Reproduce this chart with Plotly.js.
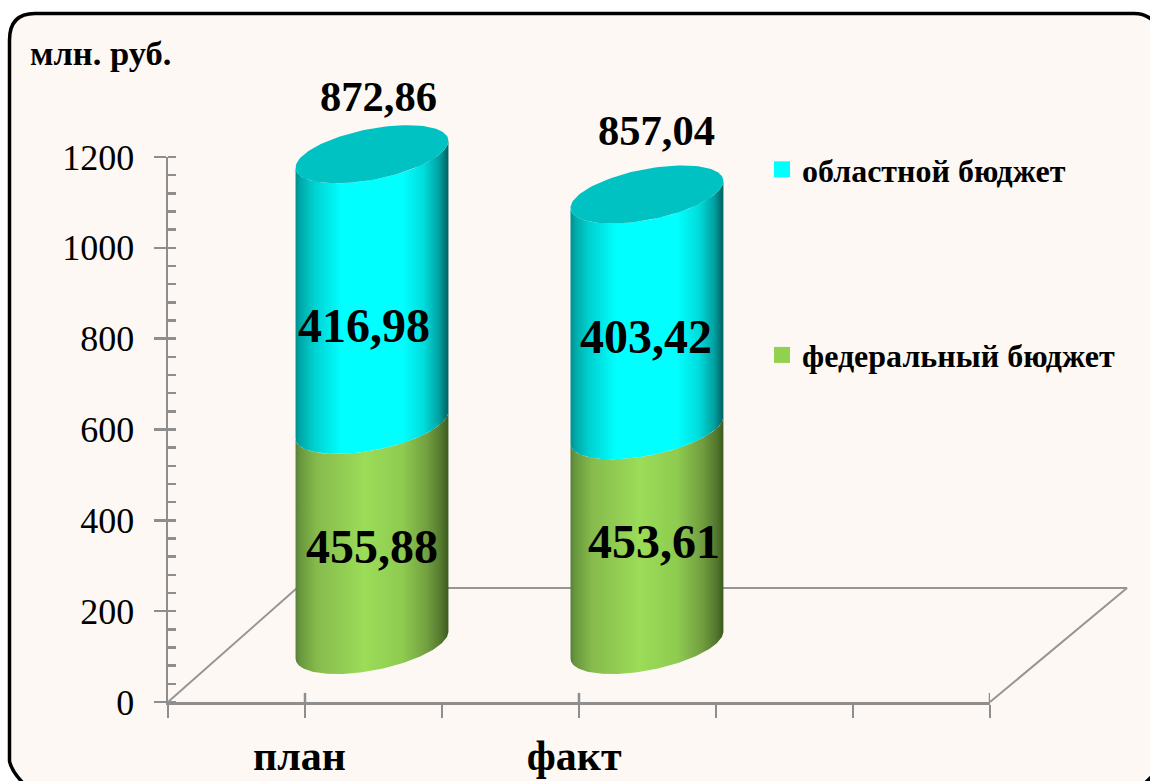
<!DOCTYPE html>
<html><head><meta charset="utf-8">
<script src="https://cdn.plot.ly/plotly-3.0.1.min.js"></script>
<style>html,body{margin:0;padding:0;background:#fff}#c{width:1150px;height:781px}</style>
</head><body><div id="c"></div>
<script>
// ---- data -----
const categories = ['план', 'факт'];
const seriesNames = ['областной бюджет', 'федеральный бюджет'];
// printed data labels
const regionalLabels = [416.98, 403.42];
const federalLabels  = [455.88, 453.61];
const totalLabels    = [872.86, 857.04];
// column heights (the picture's columns do not follow the printed labels)
const federalHeights  = [484.6, 473];
const regionalHeights = [596, 519];
const columnBase = 125.5;          // depth offset of the columns on the floor, axis units
// ---- placement -----
const columnCentres = [1.489, 3.496];
const categoryTickPos = [0.96, 2.965];
const totalLabelPos    = [[1.533, 1334], [3.569, 1259]];
const regionalLabelPos = [[1.431, 828], [3.489, 805]];
const federalLabelPos  = [[1.489, 343], [3.547, 354]];
const floorX = [0, 0.9416, 7, 6];
const floorY = [0, 251, 251, 0];
const halfWidth = 0.558, capLift = 29.7, capDepth = 56.6;

const W = 1150, H = 781;
const GREY = '#8e8e8e', SERIF = '"Liberation Serif", "Times New Roman", serif';
const fmt = v => v.toFixed(2).replace('.', ',');

function arc(cx, cy, t0, t1) {
  const xs = [], ys = [], n = 120;
  for (let i = 0; i <= n; i++) {
    const t = t0 + (t1 - t0) * i / n;
    xs.push(cx + halfWidth * Math.cos(t));
    ys.push(cy + capDepth * Math.sin(t) + capLift * Math.cos(t));
  }
  return [xs, ys];
}
function side(cx, y0, y1, scale) {
  const [ax, ay] = arc(cx, y0, Math.PI, 2 * Math.PI);
  const [bx, by] = arc(cx, y1, 2 * Math.PI, Math.PI);
  return {
    x: ax.concat(bx), y: ay.concat(by), xaxis: 'x2', yaxis: 'y2', mode: 'lines', line: {width: 0},
    fill: 'toself', fillgradient: {type: 'horizontal', colorscale: scale},
    showlegend: false, hoverinfo: 'skip'
  };
}
const cyanScale = [[0,'#008e8e'],[0.03,'#00a8a8'],[0.12,'#00d0d0'],[0.3,'#00ffff'],[0.7,'#00ffff'],[0.84,'#00dcdc'],[0.94,'#00a0a0'],[1,'#005f5f']];
const greenScale = [[0,'#55803a'],[0.03,'#68973d'],[0.14,'#86bb4c'],[0.45,'#9bdc58'],[0.7,'#8ecb50'],[0.86,'#729f40'],[0.95,'#55792f'],[1,'#3c5a20']];

const traces = [
  // legend entries, also keeping the axis subplot alive
  {x:[null], y:[null], xaxis:'x', yaxis:'y', name:seriesNames[0], legendgroup:'a', mode:'markers',
   marker:{symbol:'square', size:16, color:'#00ffff'}, hoverinfo:'skip'},
  {x:[null], y:[null], xaxis:'x', yaxis:'y', name:seriesNames[1], legendgroup:'b', mode:'markers',
   marker:{symbol:'square', size:16, color:'#92d050'}, hoverinfo:'skip'},
  // floor
  {x:floorX, y:floorY, xaxis:'x2', yaxis:'y2', mode:'lines', line:{color:'#959595', width:2}, showlegend:false, hoverinfo:'skip'}
];
categories.forEach((c, i) => {
  const f0 = columnBase, f1 = f0 + federalHeights[i], r1 = f1 + regionalHeights[i], cx = columnCentres[i];
  traces.push(side(cx, f0, f1, greenScale));
  traces.push(side(cx, f1, r1, cyanScale));
  const [tx, ty] = arc(cx, r1, 0, 2 * Math.PI);
  traces.push({x:tx, y:ty, xaxis:'x2', yaxis:'y2', mode:'lines', line:{width:0}, fill:'toself',
    fillcolor:'#00c2c2', showlegend:false, hoverinfo:'skip'});
});

const annotations = [];
const addLabels = (vals, pos, size) => vals.forEach((v, i) => annotations.push({
  xref:'x2', yref:'y2', x:pos[i][0], y:pos[i][1], text:fmt(v), showarrow:false,
  xanchor:'center', yanchor:'middle', font:{family:SERIF, size, color:'#000', weight:700}
}));
addLabels(totalLabels, totalLabelPos, 42.5);
addLabels(regionalLabels, regionalLabelPos, 48);
addLabels(federalLabels, federalLabelPos, 48);
annotations.push({xref:'paper', yref:'paper', x:28/W, y:1-53/H, xanchor:'left', yanchor:'middle', showarrow:false,
  text:'млн. руб.', font:{family:SERIF, size:34.5, color:'#000', weight:700}});

const px = (x, y) => `${x/W} ${1-y/H}`;
const panel = {
  type:'path', xref:'paper', yref:'paper', layer:'below', fillcolor:'#fdf8f4',
  line:{color:'#000', width:3.5},
  path:`M ${px(9.5,40)} Q ${px(9.5,13.5)} ${px(35,13.5)} L ${px(1134,13.5)} Q ${px(1158,13.5)} ${px(1165,45)} L ${px(1165,750)} Q ${px(1165,770)} ${px(1130,795)} L ${px(36,795)} Q ${px(12,775)} ${px(9.5,761)} Z`
};
// upward half of the crossing tick marks
const crossTicks = [1, 3, 6].map(v => ({type:'line', xref:'x', yref:'y', x0:v, x1:v, y0:0, y1:20,
  line:{color:GREY, width:2.5}, layer:'above'}));

const layout = {
  width:W, height:H, margin:{l:0, r:0, t:0, b:0}, paper_bgcolor:'#fff', plot_bgcolor:'rgba(0,0,0,0)',
  showlegend:true,
  legend:{x:762/W, y:1-142/H, xanchor:'left', yanchor:'top', bgcolor:'rgba(0,0,0,0)', tracegroupgap:141,
    traceorder:'grouped', font:{family:SERIF, size:32, color:'#000', weight:700}},
  xaxis:{domain:[168/W, 990/W], anchor:'y', range:[0,6], fixedrange:true, showgrid:false, zeroline:false,
    showline:true, linecolor:GREY, linewidth:2.5, tickmode:'array', tickvals:categoryTickPos, ticktext:categories,
    ticks:'', ticklabelstandoff:15, tickfont:{family:SERIF, size:42, color:'#000', weight:700},
    minor:{tickmode:'array', tickvals:[0,1,2,3,4,5,6], ticks:'outside', ticklen:13, tickwidth:2.5, tickcolor:GREY, showgrid:false}},
  yaxis:{domain:[1-702/H, 1-157/H], anchor:'x', range:[0,1200], fixedrange:true, showgrid:false, zeroline:false,
    showline:true, linecolor:GREY, linewidth:2.5, tickmode:'array', tickvals:[0,200,400,600,800,1000,1200],
    ticks:'outside', ticklen:12, tickwidth:2.5, tickcolor:GREY, ticklabelstandoff:12,
    tickfont:{family:SERIF, size:36, color:'#000'},
    minor:{tickmode:'array', tickvals:[0,40,80,120,160,200,240,280,320,360,400,440,480,520,560,600,640,680,720,760,800,840,880,920,960,1000,1040,1080,1120,1160,1200],
      ticks:'inside', ticklen:8, tickwidth:2.5, tickcolor:GREY, showgrid:false}},
  xaxis2:{domain:[0,1], anchor:'y2', range:[-168/137, 982/137], visible:false, fixedrange:true},
  yaxis2:{domain:[0,1], anchor:'x2', range:[-79/0.4542, 702/0.4542], visible:false, fixedrange:true},
  annotations, shapes:[panel].concat(crossTicks)
};
Plotly.newPlot('c', traces, layout, {displayModeBar:false, staticPlot:true});
</script></body></html>
